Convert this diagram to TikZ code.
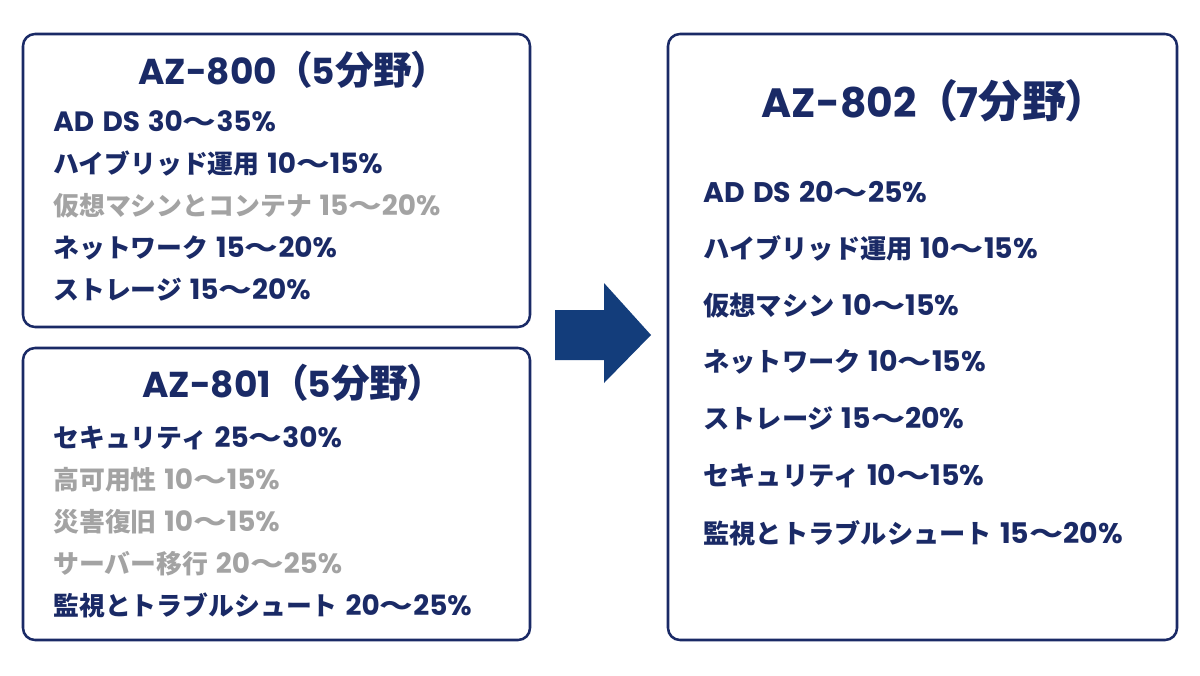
\documentclass[tikz,border=0pt]{standalone}
\usepackage{fontspec}
\usepackage{graphicx}
\setmainfont{Noto Sans CJK JP}
\newfontfamily\latfont{Poppins}[Scale=1.08]
\newfontfamily\hdlatfont{Poppins}[Scale=0.93]
\usepackage{xcolor}
\definecolor{navy}{HTML}{1A2A66}
\definecolor{fadedgray}{HTML}{A3A3A3}
\definecolor{arrowblue}{HTML}{133D7B}
% Latin runs (digits, codes) in a wider face
\newcommand\lat[1]{{\latfont #1}}
\newcommand\hdlat[1]{{\hdlatfont #1}}
% percentage range after a topic name
\newcommand\rng[2]{\hspace{0.3em}\lat{#1}\scalebox{1.3}[1]{〜}\lat{#2\%}}

\begin{document}
\begin{tikzpicture}[x=0.75pt,y=-0.75pt,
  exam box/.style={draw=navy, line width=1.9pt, rounded corners=9pt, fill=white},
  exam title/.style={anchor=base, inner sep=0pt, text=navy,
    font=\bfseries\fontsize{29}{32}\selectfont\addfontfeatures{RawFeature=+palt}},
  topic/.style={anchor=base west, inner sep=0pt, text=navy, font=\bfseries\fontsize{19.4}{22}\selectfont},
  old topic/.style={topic, text=fadedgray},
  new topic/.style={topic, font=\bfseries\fontsize{19.7}{22}\selectfont}]
  \useasboundingbox (0,0) rectangle (1200,675);
  \fill[white] (0,0) rectangle (1200,675);

  % Boxes
  \draw[exam box] (23,34) rectangle (530,327);
  \draw[exam box] (23,348) rectangle (530,640);
  \draw[exam box] (668,34) rectangle (1177,640);

  % AZ-800
  \node[exam title] (t800) at (285,84) {\hdlat{AZ-800}\hspace{0.4em}（\hdlat{5}分野）};
  \node[topic] (a1) at (53,131) {\lat{AD\hspace{0.3em}DS}\rng{30}{35}};
  \node[topic] (a2) at (53,173) {ハイブリッド運用\rng{10}{15}};
  \node[old topic] (a3) at (53,215) {仮想マシンとコンテナ\rng{15}{20}};
  \node[topic] (a4) at (53,257) {ネットワーク\rng{15}{20}};
  \node[topic] (a5) at (53,299) {ストレージ\rng{15}{20}};

  % AZ-801
  \node[exam title] (t801) at (285,397) {\hdlat{AZ-801}\hspace{0.45em}（\hdlat{5}分野）};
  \node[topic] (b1) at (53,447) {セキュリティ\rng{25}{30}};
  \node[old topic] (b2) at (53,489) {高可用性\rng{10}{15}};
  \node[old topic] (b3) at (53,531) {災害復旧\rng{10}{15}};
  \node[old topic] (b4) at (53,573) {サーバー移行\rng{20}{25}};
  \node[topic] (b5) at (53,615) {監視とトラブルシュート\rng{20}{25}};

  % AZ-802
  \node[exam title, font=\bfseries\fontsize{33}{36}\selectfont\addfontfeatures{RawFeature=+palt}]
    (t802) at (925,117) {\hdlat{AZ-802}\hspace{0.4em}（\hdlat{7}分野）};
  \node[new topic] (c1) at (703,202) {\lat{AD\hspace{0.3em}DS}\rng{20}{25}};
  \node[new topic] (c2) at (703,258) {ハイブリッド運用\rng{10}{15}};
  \node[new topic] (c3) at (703,315) {仮想マシン\rng{10}{15}};
  \node[new topic] (c4) at (703,371) {ネットワーク\rng{10}{15}};
  \node[new topic] (c5) at (703,428) {ストレージ\rng{15}{20}};
  \node[new topic] (c6) at (703,485) {セキュリティ\rng{10}{15}};
  \node[new topic] (c7) at (703,543) {監視とトラブルシュート\rng{15}{20}};

  % Arrow
  \fill[arrowblue] (555,310) -- (604,310) -- (604,283) -- (651,335)
    -- (604,383) -- (604,360) -- (555,360) -- cycle;
\end{tikzpicture}
\end{document}
